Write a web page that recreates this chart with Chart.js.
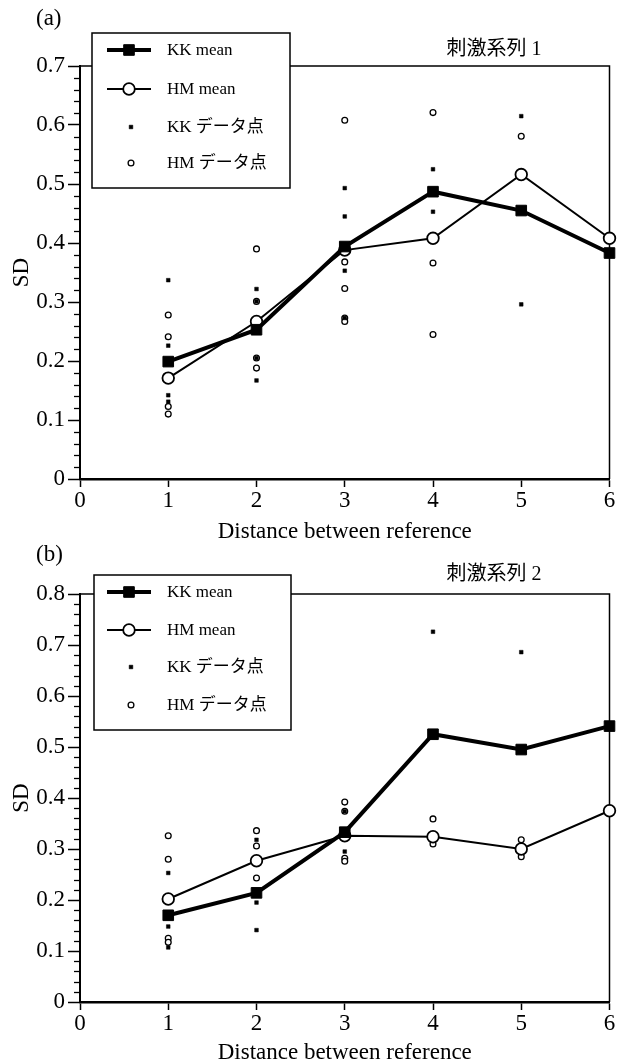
<!DOCTYPE html>
<html lang="ja">
<head>
<meta charset="UTF-8">
<title>SD - Distance between reference</title>
<script src="https://cdn.jsdelivr.net/npm/chart.js"></script>
<style>
  body { margin: 0; background: #fff; }
  .panel { position: absolute; left: 0; width: 618px; }
  #panelA { top: 0; height: 543px; }
  #panelB { top: 543px; height: 521px; }
</style>
</head>
<body>
<div class="panel" id="panelA"><canvas id="chartA"></canvas></div>
<div class="panel" id="panelB"><canvas id="chartB"></canvas></div>

<script>
// distance between reference (x) and tick labels
const distances = [1, 2, 3, 4, 5, 6];
const xTickValues = [0, 1, 2, 3, 4, 5, 6];

// 刺激系列 1
const kkMeanA = [0.199, 0.253, 0.394, 0.487, 0.455, 0.383];
const hmMeanA = [0.171, 0.267, 0.388, 0.408, 0.516, 0.408];
const kkPointsA = [[0.337, 0.226, 0.142, 0.131], [0.322, 0.301, 0.205, 0.167], [0.493, 0.445, 0.353, 0.273], [0.525, 0.453], [0.615, 0.296], []];
const hmPointsA = [[0.278, 0.241, 0.123, 0.110], [0.390, 0.301, 0.205, 0.188], [0.608, 0.368, 0.323, 0.273, 0.267], [0.621, 0.366, 0.245], [0.581], []];

// 刺激系列 2
const kkMeanB = [0.170, 0.214, 0.333, 0.525, 0.495, 0.541];
const hmMeanB = [0.202, 0.277, 0.326, 0.324, 0.300, 0.375];
const kkPointsB = [[0.253, 0.148, 0.107], [0.318, 0.195, 0.141], [0.374, 0.295], [0.726], [0.686], []];
const hmPointsB = [[0.326, 0.280, 0.125, 0.117], [0.336, 0.306, 0.277, 0.243], [0.392, 0.374, 0.282, 0.276], [0.359, 0.310], [0.318, 0.285], []];

const serif = '"Liberation Serif", "Noto Sans CJK JP", serif';

function meanXY(means) {
  return distances.map((d, i) => ({ x: d, y: means[i] }));
}
function pointsXY(lists) {
  const out = [];
  lists.forEach((vals, i) => vals.forEach(v => out.push({ x: distances[i], y: v })));
  return out;
}

// top/right frame lines and minor y ticks
const framePlugin = {
  id: 'frame',
  beforeDatasetsDraw(chart) {
    const { ctx, chartArea: a, scales: { y } } = chart;
    ctx.save();
    ctx.strokeStyle = '#000';
    ctx.lineWidth = 1.5;
    ctx.beginPath();
    ctx.moveTo(a.left, a.top);
    ctx.lineTo(a.right, a.top);
    ctx.lineTo(a.right, a.bottom);
    ctx.stroke();
    ctx.lineWidth = 1.3;
    for (let k = 0; k <= Math.round(y.max * 50); k++) {
      if (k % 5 === 0) continue;
      const py = Math.round(y.getPixelForValue(k * 0.02)) + 0.5;
      ctx.beginPath();
      ctx.moveTo(a.left - 6, py);
      ctx.lineTo(a.left, py);
      ctx.stroke();
    }
    ctx.restore();
  }
};

// legend box, panel label and series title
const legendPlugin = {
  id: 'boxLegend',
  afterDraw(chart, args, o) {
    const ctx = chart.ctx;
    ctx.save();
    ctx.fillStyle = '#000';
    ctx.font = '23px ' + serif;
    ctx.textBaseline = 'middle';
    ctx.textAlign = 'left';
    ctx.fillText(o.panel, o.panelX, o.panelY);
    ctx.font = '20px ' + serif;
    ctx.textAlign = 'center';
    ctx.fillText(o.title, o.titleX, o.titleY);

    const b = o.box;
    ctx.fillStyle = '#fff';
    ctx.fillRect(b.x, b.y, b.w, b.h);
    ctx.strokeStyle = '#000';
    ctx.lineWidth = 1.5;
    ctx.strokeRect(b.x, b.y, b.w, b.h);

    ctx.font = '17px ' + serif;
    ctx.textAlign = 'left';
    chart.data.datasets.forEach((ds, i) => {
      const ly = o.rows[i];
      if (ds.showLine) {
        ctx.strokeStyle = '#000';
        ctx.lineWidth = ds.borderWidth;
        ctx.beginPath();
        ctx.moveTo(o.lineX0, ly);
        ctx.lineTo(o.lineX1, ly);
        ctx.stroke();
      }
      ctx.fillStyle = ds.pointBackgroundColor;
      ctx.strokeStyle = ds.pointBorderColor;
      ctx.lineWidth = ds.pointBorderWidth;
      Chart.helpers.drawPoint(ctx, {
        pointStyle: ds.pointStyle, rotation: 0,
        radius: ds.pointRadius, borderWidth: ds.pointBorderWidth
      }, ds.showLine ? o.markX : o.dotX, ly);
      ctx.fillStyle = '#000';
      ctx.fillText(ds.label, o.textX, ly + 1);
    });
    ctx.restore();
  }
};

function makeChart(id, cfg) {
  const ctx = document.getElementById(id).getContext('2d');
  return new Chart(ctx, {
    type: 'scatter',
    data: {
      datasets: [
        {
          label: 'KK mean', data: meanXY(cfg.kkMean), showLine: true, clip: false,
          borderColor: '#000', borderWidth: 4, tension: 0,
          pointStyle: 'rect', pointRadius: 7.5, pointBackgroundColor: '#000',
          pointBorderColor: '#000', pointBorderWidth: 1
        },
        {
          label: 'HM mean', data: meanXY(cfg.hmMean), showLine: true, clip: false,
          borderColor: '#000', borderWidth: 2, tension: 0,
          pointStyle: 'circle', pointRadius: 5.8, pointBackgroundColor: '#fff',
          pointBorderColor: '#000', pointBorderWidth: 1.8
        },
        {
          label: 'KK データ点', data: pointsXY(cfg.kkPoints), showLine: false, clip: false,
          pointStyle: 'rect', pointRadius: 2.6, pointBackgroundColor: '#000',
          pointBorderColor: '#000', pointBorderWidth: 0.5
        },
        {
          label: 'HM データ点', data: pointsXY(cfg.hmPoints), showLine: false, clip: false,
          pointStyle: 'circle', pointRadius: 2.9, pointBackgroundColor: '#fff',
          pointBorderColor: '#000', pointBorderWidth: 1.3
        }
      ]
    },
    options: {
      responsive: true,
      maintainAspectRatio: false,
      animation: false,
      events: [],
      layout: { padding: { left: 0, top: cfg.top, right: cfg.right, bottom: 0 } },
      scales: {
        x: {
          type: 'linear', min: 0, max: 6,
          afterBuildTicks: s => { s.ticks = xTickValues.map(v => ({ value: v })); },
          afterFit: s => { s.height = cfg.xHeight; },
          ticks: { color: '#000', padding: 2, font: { family: serif, size: 23, lineHeight: 1 } },
          grid: { drawOnChartArea: false, tickLength: 8, tickColor: '#000', tickWidth: 1.5 },
          border: { color: '#000', width: 2.5 },
          title: {
            display: true, text: 'Distance between reference', color: '#000', padding: 0,
            font: { family: serif, size: 23, lineHeight: 1 }
          }
        },
        y: {
          min: 0, max: cfg.yMax,
          afterFit: s => { s.width = 80; },
          ticks: {
            stepSize: 0.1, color: '#000', padding: 3,
            font: { family: serif, size: 23, lineHeight: 1 },
            callback: v => (Math.abs(v) < 1e-9 ? '0' : v.toFixed(1))
          },
          grid: { drawOnChartArea: false, tickLength: 12, tickColor: '#000', tickWidth: 1.5 },
          border: { color: '#000', width: 2 },
          title: {
            display: true, text: 'SD', color: '#000', padding: { top: 10, bottom: 0 },
            font: { family: serif, size: 23, lineHeight: 1 }
          }
        }
      },
      plugins: {
        legend: { display: false },
        tooltip: { enabled: false },
        boxLegend: {
          panel: cfg.panel, panelX: 36, panelY: cfg.panelY,
          title: cfg.title, titleX: 494, titleY: cfg.titleY,
          box: cfg.box, rows: cfg.rows,
          lineX0: 107, lineX1: 151, markX: 129, dotX: 131, textX: 167
        }
      }
    },
    plugins: [framePlugin, legendPlugin]
  });
}

makeChart('chartA', {
  kkMean: kkMeanA, hmMean: hmMeanA, kkPoints: kkPointsA, hmPoints: hmPointsA,
  yMax: 0.7, top: 66, right: 7, xHeight: 64,
  panel: '(a)', panelY: 19, title: '刺激系列 1', titleY: 50,
  box: { x: 92, y: 33, w: 198, h: 155 }, rows: [50, 89, 127, 163]
});

makeChart('chartB', {
  kkMean: kkMeanB, hmMean: hmMeanB, kkPoints: kkPointsB, hmPoints: hmPointsB,
  yMax: 0.8, top: 51, right: 8, xHeight: 62,
  panel: '(b)', panelY: 12, title: '刺激系列 2', titleY: 32,
  box: { x: 94, y: 32, w: 197, h: 155 }, rows: [49, 87, 124, 162]
});
</script>
</body>
</html>
